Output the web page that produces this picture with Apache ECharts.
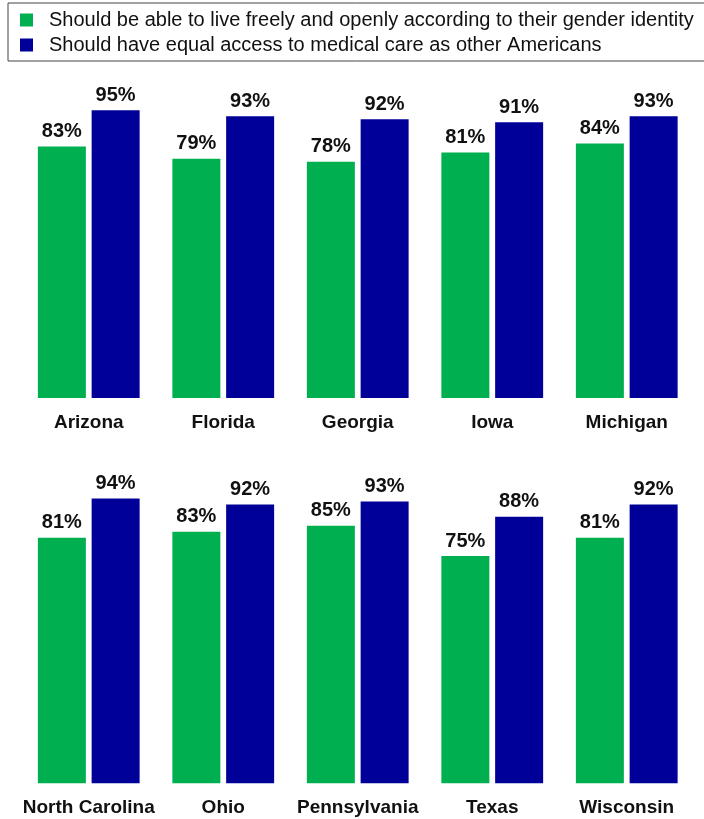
<!DOCTYPE html>
<html>
<head>
<meta charset="utf-8">
<script src="https://cdn.jsdelivr.net/npm/echarts@6/dist/echarts.min.js"></script>
<style>
  html, body { margin: 0; padding: 0; background: #fff; }
  #chart { width: 704px; height: 819px; }
</style>
</head>
<body>
<div id="chart"></div>
<script>
  // 数据
  var statesTop = ['Arizona', 'Florida', 'Georgia', 'Iowa', 'Michigan'];
  var statesBottom = ['North Carolina', 'Ohio', 'Pennsylvania', 'Texas', 'Wisconsin'];
  var liveFreelyTop = [83, 79, 78, 81, 84];
  var medicalTop = [95, 93, 92, 91, 93];
  var liveFreelyBottom = [81, 83, 85, 75, 81];
  var medicalBottom = [94, 92, 93, 88, 92];

  var nameLive = 'Should be able to live freely and openly according to their gender identity';
  var nameMedical = 'Should have equal access to medical care as other Americans';

  var font = "'Liberation Sans', Arial, sans-serif";
  var green = '#00B050';
  var navy = '#000099';

  var chart = echarts.init(document.getElementById('chart'));

  function barSeries(name, data, color, idx) {
    return {
      name: name,
      type: 'bar',
      xAxisIndex: idx,
      yAxisIndex: idx,
      data: data,
      barWidth: 48,
      barGap: '12%',
      itemStyle: { color: color },
      label: {
        show: true,
        position: 'top',
        distance: 5,
        formatter: '{c}%',
        color: '#111',
        fontFamily: font,
        fontWeight: 'bold',
        fontSize: 20
      }
    };
  }

  function xAxis(data, idx) {
    return {
      type: 'category',
      gridIndex: idx,
      data: data,
      axisLine: { show: false },
      axisTick: { show: false },
      axisLabel: {
        interval: 0,
        hideOverlap: false,
        margin: 15,
        color: '#111',
        fontFamily: font,
        fontWeight: 'bold',
        fontSize: 19
      }
    };
  }

  function yAxis(idx) {
    return {
      type: 'value',
      gridIndex: idx,
      min: 0,
      max: 100,
      show: false
    };
  }

  chart.setOption({
    animation: false,
    graphic: [{
      type: 'rect',
      shape: { x: 8, y: 3, width: 710, height: 58 },
      style: { fill: 'none', stroke: '#444', lineWidth: 1 },
      z: 0
    }],
    legend: {
      orient: 'vertical',
      left: 15,
      top: 5,
      itemWidth: 13,
      itemHeight: 13,
      itemGap: 5,
      icon: 'rect',
      data: [nameLive, nameMedical],
      textStyle: {
        fontFamily: font,
        fontSize: 20,
        color: '#111',
        padding: [0, 0, 0, 11]
      }
    },
    grid: [
      { left: 21.5, right: 10, top: 95, height: 303 },
      { left: 21.5, right: 10, top: 480.3, height: 303 }
    ],
    xAxis: [xAxis(statesTop, 0), xAxis(statesBottom, 1)],
    yAxis: [yAxis(0), yAxis(1)],
    series: [
      barSeries(nameLive, liveFreelyTop, green, 0),
      barSeries(nameMedical, medicalTop, navy, 0),
      barSeries(nameLive, liveFreelyBottom, green, 1),
      barSeries(nameMedical, medicalBottom, navy, 1)
    ]
  });
</script>
</body>
</html>
